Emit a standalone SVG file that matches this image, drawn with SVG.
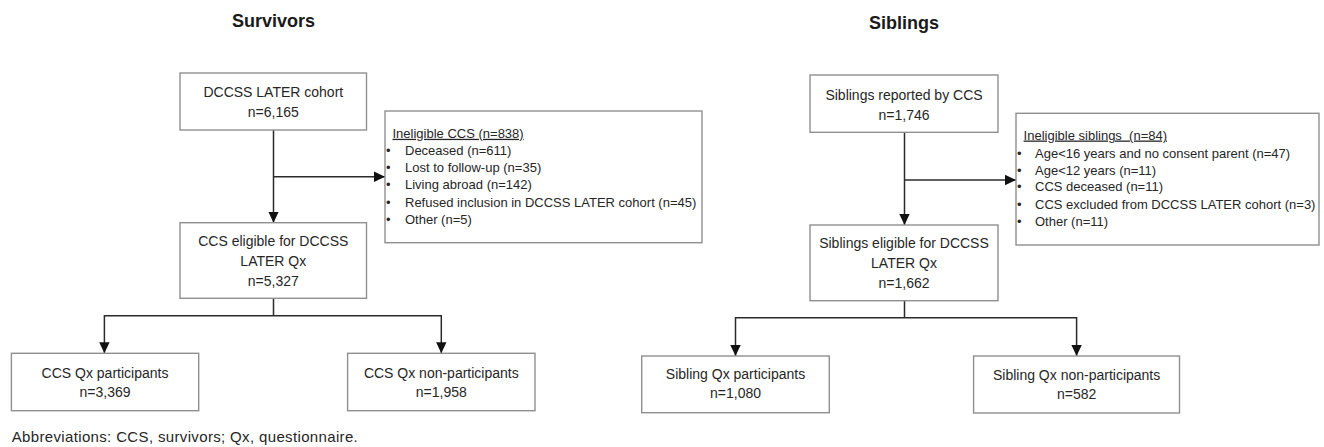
<svg xmlns="http://www.w3.org/2000/svg" width="1324" height="447" viewBox="0 0 1324 447">
<style>
.box{fill:#ffffff;stroke:#8f8f8f;stroke-width:1.4}
.t{font-family:"Liberation Sans",Arial,sans-serif;font-size:14px;fill:#262626;text-anchor:middle}
.l{font-family:"Liberation Sans",Arial,sans-serif;font-size:13px;fill:#262626;white-space:pre}
.h{font-family:"Liberation Sans",Arial,sans-serif;font-size:18px;font-weight:bold;fill:#1a1a1a;text-anchor:middle}
.c{fill:none;stroke:#2a2a2a;stroke-width:1.5}
.a{marker-end:url(#arr)}
</style>
<defs>
<marker id="arr" markerUnits="userSpaceOnUse" markerWidth="12" markerHeight="12" viewBox="0 0 12 12" refX="11" refY="6" orient="auto">
<path d="M0,0.8 L11,6 L0,11.2 z" fill="#111111"/>
</marker>
</defs>
<text class="h" x="273.5" y="27">Survivors</text>
<text class="h" x="904" y="29">Siblings</text>
<g id="connectors">
<path class="c a" d="M273.5,130 V222.7"/>
<path class="c a" d="M273.5,176.7 H385"/>
<path class="c" d="M273.5,298.3 V315.7 M104.4,315.7 H441.3"/>
<path class="c a" d="M104.4,315 V353.3"/>
<path class="c a" d="M441.3,315 V353.3"/>
<path class="c a" d="M904.5,132.3 V225"/>
<path class="c a" d="M904.5,180 H1016"/>
<path class="c" d="M904.5,300.7 V317.7 M735.5,317.7 H1076.6"/>
<path class="c a" d="M735.5,317 V356"/>
<path class="c a" d="M1076.6,317 V356"/>
</g>
<g id="survivors-cohort">
<rect class="box" x="180" y="73" width="186.5" height="57"/>
<text class="t" x="273.3" y="97.3">DCCSS LATER cohort</text>
<text class="t" x="273.3" y="116.7">n=6,165</text>
</g>
<g id="survivors-ineligible">
<rect class="box" x="385" y="111" width="317" height="131.7"/>
<text class="l" x="392.5" y="137.8" text-decoration="underline">Ineligible CCS (n=838)</text>
<text class="l" x="386" y="154.5">•</text><text class="l" x="405" y="154.5">Deceased (n=611)</text>
<text class="l" x="386" y="171.8">•</text><text class="l" x="405" y="171.8">Lost to follow-up (n=35)</text>
<text class="l" x="386" y="189.3">•</text><text class="l" x="405" y="189.3">Living abroad (n=142)</text>
<text class="l" x="386" y="207">•</text><text class="l" x="405" y="207">Refused inclusion in DCCSS LATER cohort (n=45)</text>
<text class="l" x="386" y="224.4">•</text><text class="l" x="405" y="224.4">Other (n=5)</text>
</g>
<g id="survivors-eligible">
<rect class="box" x="180" y="222.7" width="186.5" height="75.6"/>
<text class="t" x="273.3" y="245.7">CCS eligible for DCCSS</text>
<text class="t" x="273.3" y="265.7">LATER Qx</text>
<text class="t" x="273.3" y="285.7">n=5,327</text>
</g>
<g id="survivors-participants">
<rect class="box" x="11.4" y="353.3" width="187.3" height="57.4"/>
<text class="t" x="105" y="377.7">CCS Qx participants</text>
<text class="t" x="105" y="397.3">n=3,369</text>
</g>
<g id="survivors-nonparticipants">
<rect class="box" x="347.6" y="353.3" width="187.4" height="57.4"/>
<text class="t" x="441.3" y="377.7">CCS Qx non-participants</text>
<text class="t" x="441.3" y="397.3">n=1,958</text>
</g>
<g id="siblings-reported">
<rect class="box" x="810" y="75" width="188" height="57.3"/>
<text class="t" x="904" y="100">Siblings reported by CCS</text>
<text class="t" x="904" y="120">n=1,746</text>
</g>
<g id="siblings-ineligible">
<rect class="box" x="1016" y="113.3" width="303" height="131.7"/>
<text class="l" x="1023.6" y="139.5" text-decoration="underline">Ineligible siblings  (n=84)</text>
<text class="l" x="1017" y="157.5">•</text><text class="l" x="1035" y="157.5">Age&lt;16 years and no consent parent (n=47)</text>
<text class="l" x="1017" y="174.6">•</text><text class="l" x="1035" y="174.6">Age&lt;12 years (n=11)</text>
<text class="l" x="1017" y="191.4">•</text><text class="l" x="1035" y="191.4">CCS deceased (n=11)</text>
<text class="l" x="1017" y="209.4">•</text><text class="l" x="1035" y="209.4">CCS excluded from DCCSS LATER cohort (n=3)</text>
<text class="l" x="1017" y="226.2">•</text><text class="l" x="1035" y="226.2">Other (n=11)</text>
</g>
<g id="siblings-eligible">
<rect class="box" x="810" y="225" width="188" height="75.7"/>
<text class="t" x="904" y="248.3">Siblings eligible for DCCSS</text>
<text class="t" x="904" y="268.3">LATER Qx</text>
<text class="t" x="904" y="287.7">n=1,662</text>
</g>
<g id="siblings-participants">
<rect class="box" x="641.7" y="356" width="187.6" height="56.7"/>
<text class="t" x="735.5" y="379.3">Sibling Qx participants</text>
<text class="t" x="735.5" y="398.3">n=1,080</text>
</g>
<g id="siblings-nonparticipants">
<rect class="box" x="973.6" y="356" width="205.9" height="57"/>
<text class="t" x="1076.6" y="380">Sibling Qx non-participants</text>
<text class="t" x="1076.6" y="399">n=582</text>
</g>
<text class="l" x="11.7" y="442" style="font-size:15px;letter-spacing:0.35px">Abbreviations: CCS, survivors; Qx, questionnaire.</text>
</svg>
